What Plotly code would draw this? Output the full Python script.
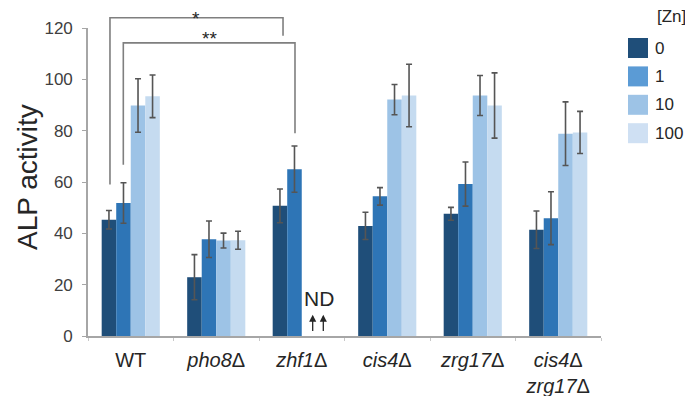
import plotly.graph_objects as go

# ---------------- data ----------------
strains = ["WT", "<i>pho8</i>Δ", "<i>zhf1</i>Δ", "<i>cis4</i>Δ", "<i>zrg17</i>Δ", "<i>cis4</i>Δ<br><i>zrg17</i>Δ"]
zn_levels = ["0", "1", "10", "100"]

alp_zn0 = [45.3, 22.9, 50.7, 42.9, 47.6, 41.4]
alp_zn1 = [51.8, 37.7, 65.0, 54.4, 59.2, 45.9]
alp_zn10 = [89.8, 37.2, None, 92.1, 93.7, 78.8]
alp_zn100 = [93.4, 37.3, None, 93.7, 89.8, 79.3]

err_zn0 = [3.6, 8.8, 6.6, 5.3, 2.5, 7.3]
err_zn1 = [7.9, 7.1, 9.0, 3.4, 8.6, 10.3]
err_zn10 = [10.4, 2.9, None, 5.9, 7.8, 12.4]
err_zn100 = [8.3, 3.5, None, 12.2, 12.7, 8.2]

y_ticks = [0, 20, 40, 60, 80, 100, 120]

# significance brackets: (label, left x, right x, left foot, right foot, top)
brackets = [
    ("*", -0.243, 1.781, 59.0, 117.0, 124.0),
    ("**", -0.087, 1.921, 66.7, 79.0, 114.2),
]

# ---------------- style ----------------
colors = ["#1f4e79", "#2e75b6", "#9dc3e6", "#c5dbf0"]
legend_colors = ["#1f4e79", "#5b9bd5", "#9dc3e6", "#cfe0f3"]
FONT = "Liberation Sans, Arial, sans-serif"
OFF = 8  # page body margin
W, H = 693 - 2 * OFF, 404 - 2 * OFF
L, T = 88 - OFF, 28 - OFF
R = W - (601 - OFF)
B = H - (336 - OFF)
PW, PH = W - L - R, H - T - B
Y_MAX = 120


def px_x(p):
    """page pixel x -> paper"""
    return (p - OFF - L) / PW


def px_y(p):
    """page pixel y -> paper"""
    return (H - B - (p - OFF)) / PH


def data_x_paper(x):
    return (x + 0.5) / len(strains)


series = [alp_zn0, alp_zn1, alp_zn10, alp_zn100]
errors = [err_zn0, err_zn1, err_zn10, err_zn100]
x_idx = list(range(len(strains)))

fig = go.Figure()
for lvl, vals, errs, col in zip(zn_levels, series, errors, colors):
    fig.add_trace(go.Bar(
        x=x_idx, y=vals, name=lvl,
        marker=dict(color=col, line=dict(width=0)),
        error_y=dict(type="data", array=errs, visible=True,
                     color="#555555", thickness=1.6, width=3),
        showlegend=False,
    ))

shapes = []
annotations = []

# brackets
for label, xl, xr, yl, yr, ytop in brackets:
    xlp, xrp = data_x_paper(xl), data_x_paper(xr)
    shapes.append(dict(
        type="path", xref="paper", yref="paper",
        path=f"M {xlp},{yl / Y_MAX} L {xlp},{ytop / Y_MAX} L {xrp},{ytop / Y_MAX} L {xrp},{yr / Y_MAX}",
        line=dict(color="#7f7f7f", width=1.6),
    ))
    annotations.append(dict(
        xref="paper", yref="paper", x=(xlp + xrp) / 2, y=ytop / Y_MAX,
        text=label, showarrow=False, xanchor="center", yanchor="bottom",
        yshift=-13.5 if ytop > Y_MAX else -8,
        font=dict(family=FONT, size=19, color="#262626"),
    ))

# ND annotation with arrows
annotations.append(dict(
    x=2.2, y=14.6, xref="x", yref="y", text="ND", showarrow=False,
    xanchor="center", yanchor="middle",
    font=dict(family=FONT, size=21, color="#262626"),
))
for ax_x in [2.128, 2.252]:
    annotations.append(dict(
        x=ax_x, y=8.3, xref="x", yref="y", ax=ax_x, ay=1.4,
        axref="x", ayref="y", text="", showarrow=True,
        arrowhead=2, arrowsize=1.1, arrowwidth=1.3, arrowcolor="#262626",
    ))

# y-axis title
annotations.append(dict(
    xref="paper", yref="paper", x=px_x(27), y=px_y(177),
    xanchor="center", yanchor="middle",
    text="ALP activity", textangle=-90, showarrow=False,
    font=dict(family=FONT, size=28, color="#262626"),
))

# custom legend
annotations.append(dict(
    xref="paper", yref="paper", x=px_x(671), y=px_y(17),
    xanchor="center", yanchor="middle",
    text="[Zn]", showarrow=False,
    font=dict(family=FONT, size=17, color="#262626"),
))
for i, (lvl, col) in enumerate(zip(zn_levels, legend_colors)):
    cy = 48 + i * 28.4
    shapes.append(dict(
        type="rect", xref="paper", yref="paper",
        x0=px_x(628), x1=px_x(648), y0=px_y(cy + 10), y1=px_y(cy - 10),
        fillcolor=col, line=dict(width=0),
    ))
    annotations.append(dict(
        xref="paper", yref="paper", x=px_x(653), y=px_y(cy),
        text=lvl, showarrow=False, xanchor="left", yanchor="middle",
        font=dict(family=FONT, size=17, color="#262626"),
    ))

fig.update_layout(
    width=W, height=H,
    margin=dict(l=L, r=R, t=T, b=B, pad=0, autoexpand=False),
    paper_bgcolor="white", plot_bgcolor="white",
    barmode="group", bargap=0.32, bargroupgap=0,
    font=dict(family=FONT, color="#262626"),
    shapes=shapes, annotations=annotations,
    xaxis=dict(
        range=[-0.5, len(strains) - 0.5], automargin=False,
        tickmode="array", tickvals=x_idx, ticktext=strains,
        ticks="", showline=True, linecolor="#a6a6a6", linewidth=1.6,
        showgrid=False, zeroline=False, ticklabelstandoff=5,
        tickfont=dict(family=FONT, size=20, color="#262626"),
        minor=dict(tickmode="linear", tick0=-0.5, dtick=1, ticks="outside",
                   ticklen=3, tickcolor="#c8c8c8", showgrid=False),
    ),
    yaxis=dict(
        range=[0, Y_MAX], tickmode="array", tickvals=y_ticks, automargin=False,
        ticks="outside", ticklen=4, tickcolor="#a6a6a6",
        showline=True, linecolor="#a6a6a6", linewidth=1.6,
        showgrid=False, zeroline=False, ticklabelstandoff=6,
        tickfont=dict(family=FONT, size=17, color="#404040"),
    ),
)

fig.write_html("out.html")
